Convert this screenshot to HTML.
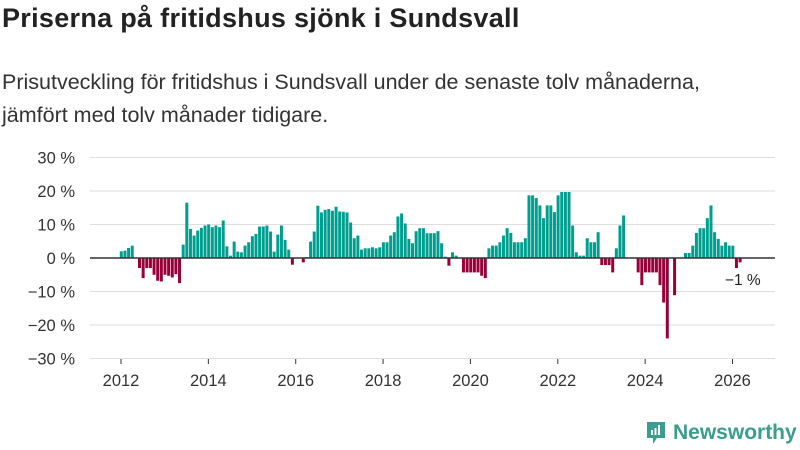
<!DOCTYPE html>
<html><head><meta charset="utf-8"><style>
body{margin:0;width:800px;height:450px;background:#fff;font-family:"Liberation Sans","DejaVu Sans",sans-serif;overflow:hidden;position:relative}
#title{position:absolute;left:2px;top:3px;font-size:27px;font-weight:bold;color:#222;margin:0;letter-spacing:0.3px}
#sub{position:absolute;left:2px;top:66px;font-size:21.5px;line-height:33px;color:#333;width:740px}
svg{position:absolute;left:0;top:0}
</style></head><body>
<h1 id="title">Priserna på fritidshus sjönk i Sundsvall</h1>
<div id="sub">Prisutveckling för fritidshus i Sundsvall under de senaste tolv månaderna, jämfört med tolv månader tidigare.</div>
<svg id="chart" width="800" height="450"></svg>
<div style="position:absolute;left:645px;top:420px;display:flex;align-items:center">
<svg width="22" height="26" style="position:static"><path d="M2 2h18v16h-8l-4 6v-6H2z" fill="#3a9e8e"/><rect x="6" y="10" width="2" height="5" fill="#fff"/><rect x="9.5" y="8" width="2" height="7" fill="#fff"/><rect x="13" y="5" width="2" height="10" fill="#fff"/></svg>
<span style="font-size:21px;color:#3a9e8e;margin-left:6px;font-weight:bold">Newsworthy</span></div>
<script>
const startYear = 2012;
const values = [2,2.2,3,3.7,0,
-3,-6,-3,-3,-5,-6.8,-7,-5,-5.3,-5.8,-4.8,-7.5,
4,16.5,8.7,6.7,8.2,9,9.7,10,9.2,9.7,9.2,11.2,3.5,0.7,4.9,1.9,1.7,3.7,4.7,6.5,7.2,9.4,9.4,9.7,7.9,1.9,7,9.7,5.4,2.5,
-2,0,0,-1.3,0.3,
4.9,7.9,15.6,13.6,14.4,14.6,14.1,15.3,13.9,13.8,13.6,10.6,5.9,6.7,2.5,2.9,2.9,3.2,2.9,3.2,4.7,4.7,6.7,7.7,12.4,13.3,10.3,5.7,4.4,8,8.9,8.9,7.4,7.4,7.4,8,4.4,0.4,-2.3,1.7,0.7,0,-4.3,-4.3,-4.3,-4.3,-4.3,-5.3,-6,2.9,3.7,3.7,
4.7,6.7,8.9,7.5,4.7,4.7,4.7,5.9,18.7,18.7,17.9,15.7,11.9,15.7,15.7,13.7,18.7,19.7,19.7,19.7,9.7,1.7,0.7,0.7,5.9,4.7,4.7,7.7,-2.1,-2.1,-2.1,-4.3,2.9,9.7,12.7,
0,0,0,-4.3,-8.1,-4.3,-4.3,-4.3,-4.3,-8.1,-13.3,-24,0,-11.1,0,0,1.5,1.5,3.7,7.5,8.9,8.9,11.9,15.7,7.7,5.7,3.7,4.7,3.7,3.7,-3,-1.3];
const yTicks = [30,20,10,0,-10,-20,-30];
const xTicks = [2012,2014,2016,2018,2020,2022,2024,2026];
const lastLabel = "−1 %";

const svg = document.getElementById('chart');
const NS = 'http://www.w3.org/2000/svg';
const y = v => 258 - v * 3.35;
const x = yr => 121 + (yr - 2012) * 43.68;
function mk(tag, attrs, txt){const e=document.createElementNS(NS,tag);for(const k in attrs)e.setAttribute(k,attrs[k]);if(txt!==undefined)e.textContent=txt;svg.appendChild(e);return e;}

yTicks.forEach(t=>{
  const g = mk('line',{x1:90,x2:775,y1:y(t),y2:y(t),stroke:'#dedede','stroke-width':1});
  
  
  const l = mk('text',{x:75,y:y(t)+6,'text-anchor':'end','font-size':16.5,fill:'#333'}, (t<0?'−'+(-t):t)+' %');
  
  
});
xTicks.forEach(t=>{
  const tk = mk('line',{x1:x(t),x2:x(t),y1:359,y2:364,stroke:'#333','stroke-width':1});
  
  
  const l = mk('text',{x:x(t),y:386,'text-anchor':'middle','font-size':16.5,fill:'#333'}, t);
  
  
});
values.forEach((v,i)=>{
  if(v===0) return;
  const cx = x(startYear + i/12);
  const r = mk('rect',{x:cx-1.2,width:3,y:Math.min(y(v),y(0)),height:Math.abs(y(v)-y(0)),fill:v>0?'#009e8f':'#990038'});
  
  
});
const z = mk('line',{x1:90,x2:775,y1:y(0),y2:y(0),stroke:'#333','stroke-width':1.5});


const lastX = x(startYear + (values.length-1)/12);
const ll = mk('text',{x:lastX+3,y:285,'text-anchor':'middle','font-size':15.5,fill:'#222'}, lastLabel);


</script>
</body></html>
